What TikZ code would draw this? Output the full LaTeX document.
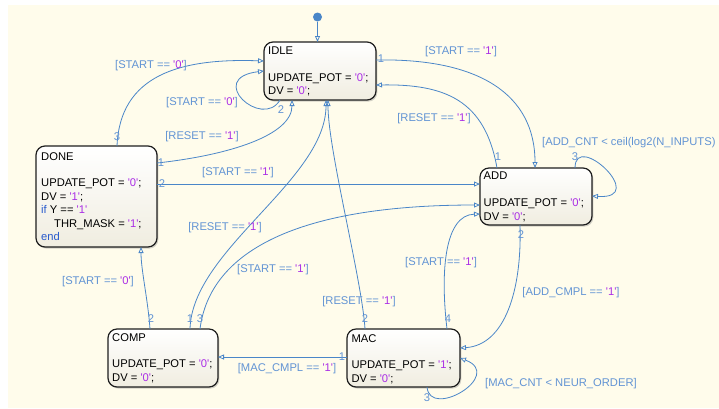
\documentclass[tikz,border=0pt]{standalone}
\usepackage{fontspec}
\setmainfont{Liberation Sans}
\usetikzlibrary{arrows.meta,calc,shadows}

\definecolor{canvas}{RGB}{255,252,235}
\definecolor{trblue}{RGB}{74,134,200}
\definecolor{guardblue}{RGB}{98,148,212}
\definecolor{strpurple}{RGB}{170,45,230}
\definecolor{kwblue}{RGB}{40,90,205}
\definecolor{boxedge}{RGB}{30,30,30}
\definecolor{boxbottom}{RGB}{240,237,224}

% string literal and keyword highlighting
\newcommand\sv[1]{\textcolor{strpurple}{\textquotesingle#1\textquotesingle}}
\newcommand\kw[1]{\textcolor{kwblue}{#1}}
\newcommand\chartfont{\fontsize{11.2}{13.4}\selectfont}

\tikzset{
  statebox/.style={draw=boxedge, line width=1.2pt, rounded corners=9pt,
    top color=white, bottom color=boxbottom, outer sep=0pt, inner sep=0pt,
    drop shadow={shadow xshift=1.3pt, shadow yshift=-1.6pt, opacity=0.35}},
  statetext/.style={anchor=north west, inner sep=0pt, align=left, font=\chartfont},
  tr/.style={draw=trblue, line width=0.8pt, -{Triangle[open, length=6pt, width=5pt]}},
  guard/.style={text=guardblue, inner sep=0pt, font=\chartfont},
  num/.style={text=guardblue, inner sep=0pt, font=\chartfont, fill=none},
  initdot/.style={circle, fill=trblue, minimum size=9pt, inner sep=0pt, outer sep=0pt},
}

\begin{document}
\begin{tikzpicture}[x=1pt, y=-1pt]
\useasboundingbox (0,0) rectangle (719,408);
\fill[canvas] (8,5) rectangle (719,408);

% states
\node[statebox, minimum width=112pt, minimum height=58pt]  (idle) at (320,71)     {};
\node[statebox, minimum width=121pt, minimum height=101pt] (done) at (96.5,196.5) {};
\node[statebox, minimum width=112pt, minimum height=57pt]  (add)  at (536,196.5)  {};
\node[statebox, minimum width=110pt, minimum height=58pt]  (comp) at (163,358)    {};
\node[statebox, minimum width=113pt, minimum height=58pt]  (mac)  at (403.5,358)  {};

\node[statetext] (idle-txt) at ($(idle.north west)+(4,4.5)$)
  {IDLE\\[13.4pt]UPDATE\_POT = \sv{0};\\DV = \sv{0};};
\node[statetext] (done-txt) at ($(done.north west)+(5,6)$)
  {DONE\\[13.4pt]UPDATE\_POT = \sv{0};\\DV = \sv{1};\\\kw{if} Y == \sv{1}\\\hspace*{13pt}THR\_MASK = \sv{1};\\\kw{end}};
\node[statetext] (add-txt) at ($(add.north west)+(3.5,4)$)
  {ADD\\[13.4pt]UPDATE\_POT = \sv{0};\\DV = \sv{0};};
\node[statetext] (comp-txt) at ($(comp.north west)+(4,4)$)
  {COMP\\[13.4pt]UPDATE\_POT = \sv{0};\\DV = \sv{0};};
\node[statetext] (mac-txt) at ($(mac.north west)+(4.3,5)$)
  {MAC\\[13.4pt]UPDATE\_POT = \sv{1};\\DV = \sv{0};};

% default transition
\node[initdot] (init) at (317.5,17) {};
\draw[tr] (init) -- ($(idle.north west)+(53.5,0)$);

% transitions
\draw[tr] ($(idle.north east)+(0,18)$) .. controls (480,58) and (535,95) .. ($(add.north west)+(55,0)$);
\draw[tr] ($(add.north west)+(17,0)$) .. controls (485,100) and (445,84) .. ($(idle.north east)+(0,43)$);
\draw[tr] ($(add.north west)+(95,0)$) .. controls (575,130) and (650,200) .. ($(add.north east)+(0,28)$);
\draw[tr] ($(done.north east)+(0,38)$) -- ($(add.north west)+(0,16)$);
\draw[tr] ($(done.north east)+(0,17)$) .. controls (230,155) and (292,135) .. ($(idle.south west)+(28,0)$);
\draw[tr] ($(done.north west)+(81,0)$) .. controls (120,75) and (180,58) .. ($(idle.north west)+(0,19)$);
\draw[tr] ($(idle.south west)+(16,0)$) .. controls (262,130) and (205,78) .. ($(idle.north west)+(0,29)$);
\draw[tr] ($(comp.north west)+(42,0)$) .. controls (148,300) and (141,270) .. ($(done.south west)+(105,0)$);
\draw[tr] ($(comp.north west)+(82,0)$) .. controls (192,250) and (326,180) .. ($(idle.south west)+(62,0)$);
\draw[tr] ($(comp.north west)+(92,0)$) .. controls (210,250) and (300,205) .. ($(add.north west)+(0,37)$);
\draw[tr] ($(mac.north west)+(18,0)$) .. controls (362,280) and (328,150) .. ($(idle.south west)+(64,0)$);
\draw[tr] ($(mac.north west)+(100,0)$) .. controls (440,270) and (445,215) .. ($(add.north west)+(0,46)$);
\draw[tr] ($(add.south west)+(40,0)$) .. controls (522,290) and (505,345) .. ($(mac.north east)+(0,19)$);
\draw[tr] ($(mac.south west)+(80,0)$) .. controls (430,420) and (505,375) .. ($(mac.north east)+(0,29)$);
\draw[tr] ($(mac.north west)+(0,28)$) -- ($(comp.north east)+(0,28)$);

% execution order numbers
\node[num] (o-idle-add)  at (381,59)  {1};
\node[num] (o-add-idle)  at (498,157) {1};
\node[num] (o-add-self)  at (575,157) {3};
\node[num] (o-done-add)  at (162,184) {2};
\node[num] (o-done-idle) at (161,163) {1};
\node[num] (o-done-st0)  at (117,137) {3};
\node[num] (o-idle-self) at (281,110) {2};
\node[num] (o-comp-done) at (151,319) {2};
\node[num] (o-comp-idle) at (190,319) {1};
\node[num] (o-comp-add)  at (200,319) {3};
\node[num] (o-mac-idle)  at (365,319) {2};
\node[num] (o-mac-add)   at (448,319) {4};
\node[num] (o-add-mac)   at (521,235) {2};
\node[num] (o-mac-self)  at (427,398) {3};
\node[num] (o-mac-comp)  at (342,357) {1};

% guards
\node[guard] (g-idle-add)  at (461,52)  {[START == \sv{1}]};
\node[guard] (g-add-idle)  at (434,119) {[RESET == \sv{1}]};
\node[guard, anchor=west] (g-add-self) at (542,143) {[ADD\_CNT < ceil(log2(N\_INPUTS)};
\node[guard] (g-done-add)  at (238,173) {[START == \sv{1}]};
\node[guard] (g-done-idle) at (202,137) {[RESET == \sv{1}]};
\node[guard] (g-done-st0)  at (151,66)  {[START == \sv{0}]};
\node[guard] (g-idle-self) at (202,103) {[START == \sv{0}]};
\node[guard] (g-comp-done) at (98,282)  {[START == \sv{0}]};
\node[guard] (g-comp-idle) at (225,228) {[RESET == \sv{1}]};
\node[guard] (g-comp-add)  at (273,270) {[START == \sv{1}]};
\node[guard] (g-mac-idle)  at (359,302) {[RESET == \sv{1}]};
\node[guard] (g-mac-add)   at (441,263) {[START == \sv{1}]};
\node[guard] (g-add-mac)   at (571,293) {[ADD\_CMPL == \sv{1}]};
\node[guard, anchor=west] (g-mac-self) at (485,384) {[MAC\_CNT < NEUR\_ORDER]};
\node[guard] (g-mac-comp)  at (287,369) {[MAC\_CMPL == \sv{1}]};
\end{tikzpicture}
\end{document}
